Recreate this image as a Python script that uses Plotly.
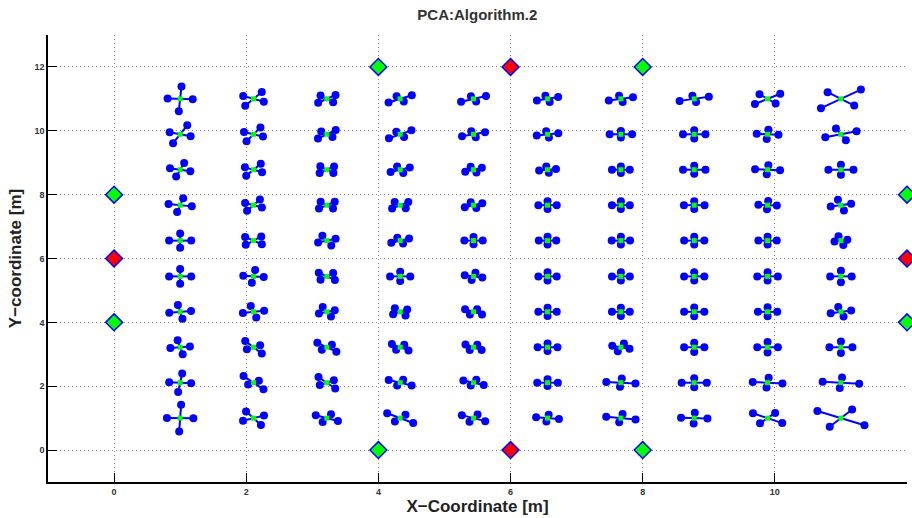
import numpy as np
import plotly.graph_objects as go

# grid of estimated positions
grid_x = [1.0, 2.11, 3.22, 4.33, 5.44, 6.56, 7.67, 8.78, 9.89, 11.0]
grid_y = [1.0, 2.11, 3.22, 4.33, 5.44, 6.56, 7.67, 8.78, 9.89, 11.0]

# principal axis 1 angle (deg, data space), per row (y) then column (x)
theta = [
    [88, -62, -28, -38, -28, -9, -11, -3, -35, -32],
    [84, -54, -55, -27, -25, 0, -6, 0, -6, -6],
    [-80, -57, -44, -38, -35, 0, -21, 0, 0, 0],
    [-81, -77, -67, -55, -33, 0, 0, 0, 0, 15],
    [90, 83, -43, 0, -14, 0, 0, 0, 0, 0],
    [90, 48, -66, 26, 0, 0, 0, 0, 0, -75],
    [78, 61, 42, 40, 25, 0, 0, 0, -4, 15],
    [74, 60, 43, 25, 26, 11, 0, 0, -5, 0],
    [69, 64, 45, 36, 20, 12, 0, 0, -5, 22],
    [87, 60, 43, 33, 26, 19, 16, 16, 40, 44],
]
# half-length along axis 1
axis1 = [
    [0.42, 0.24, 0.19, 0.25, 0.20, 0.175, 0.226, 0.20, 0.27, 0.42],
    [0.29, 0.256, 0.22, 0.195, 0.17, 0.156, 0.222, 0.19, 0.226, 0.278],
    [0.22, 0.23, 0.20, 0.16, 0.15, 0.15, 0.14, 0.153, 0.156, 0.174],
    [0.22, 0.185, 0.16, 0.14, 0.153, 0.139, 0.135, 0.153, 0.146, 0.16],
    [0.23, 0.20, 0.167, 0.153, 0.137, 0.139, 0.135, 0.153, 0.156, 0.163],
    [0.22, 0.175, 0.165, 0.15, 0.139, 0.132, 0.139, 0.153, 0.139, 0.14],
    [0.22, 0.20, 0.16, 0.16, 0.146, 0.139, 0.135, 0.156, 0.14, 0.16],
    [0.22, 0.22, 0.15, 0.16, 0.14, 0.13, 0.135, 0.17, 0.19, 0.19],
    [0.30, 0.24, 0.19, 0.21, 0.185, 0.167, 0.17, 0.17, 0.165, 0.255],
    [0.39, 0.25, 0.18, 0.21, 0.21, 0.17, 0.19, 0.23, 0.25, 0.42],
]
# half-length along axis 2 (perpendicular)
axis2 = [
    [0.20, 0.18, 0.135, 0.13, 0.13, 0.11, 0.135, 0.166, 0.20, 0.32],
    [0.167, 0.10, 0.13, 0.10, 0.10, 0.105, 0.13, 0.14, 0.155, 0.166],
    [0.15, 0.12, 0.11, 0.10, 0.10, 0.115, 0.13, 0.145, 0.166, 0.18],
    [0.167, 0.165, 0.13, 0.13, 0.10, 0.13, 0.13, 0.135, 0.14, 0.155],
    [0.167, 0.156, 0.14, 0.145, 0.12, 0.13, 0.13, 0.13, 0.13, 0.18],
    [0.167, 0.17, 0.145, 0.10, 0.115, 0.125, 0.12, 0.12, 0.12, 0.10],
    [0.18, 0.145, 0.14, 0.13, 0.10, 0.12, 0.12, 0.12, 0.13, 0.175],
    [0.16, 0.15, 0.145, 0.11, 0.10, 0.10, 0.104, 0.125, 0.14, 0.16],
    [0.17, 0.16, 0.12, 0.10, 0.10, 0.10, 0.104, 0.13, 0.145, 0.20],
    [0.19, 0.18, 0.14, 0.10, 0.09, 0.10, 0.10, 0.10, 0.19, 0.29],
]

# anchors
anchor_x = [4, 6, 8, 0, 0, 0, 12, 12, 12, 4, 6, 8]
anchor_y = [12, 12, 12, 8, 6, 4, 8, 6, 4, 0, 0, 0]
anchor_kind = ["g", "r", "g", "g", "r", "g", "g", "r", "g", "g", "r", "g"]

x_ticks = [0, 2, 4, 6, 8, 10, 12]
y_ticks = [0, 2, 4, 6, 8, 10, 12]

line_x, line_y, dot_x, dot_y, cx, cy = [], [], [], [], [], []
for i, yc in enumerate(grid_y):
    for j, xc in enumerate(grid_x):
        t = np.radians(theta[i][j])
        for ang, L in ((t, axis1[i][j]), (t + np.pi / 2, axis2[i][j])):
            dx, dy = L * np.cos(ang), L * np.sin(ang)
            line_x += [xc - dx, xc + dx, None]
            line_y += [yc - dy, yc + dy, None]
            dot_x += [xc - dx, xc + dx]
            dot_y += [yc - dy, yc + dy]
        cx.append(xc)
        cy.append(yc)

fig = go.Figure()
fig.add_trace(go.Scatter(x=line_x, y=line_y, mode="lines",
                         line=dict(color="#0000FF", width=2), hoverinfo="skip",
                         showlegend=False))
fig.add_trace(go.Scatter(x=dot_x, y=dot_y, mode="markers",
                         marker=dict(color="#0000FF", size=8, line=dict(width=0)),
                         showlegend=False))
fig.add_trace(go.Scatter(x=cx, y=cy, mode="markers",
                         marker=dict(color="#00FF00", size=5, symbol="square",
                                     line=dict(width=0)),
                         showlegend=False))
colors = ["#00FF00" if k == "g" else "#FF0000" for k in anchor_kind]
fig.add_trace(go.Scatter(x=anchor_x, y=anchor_y, mode="markers",
                         marker=dict(color=colors, size=13, symbol="diamond",
                                     line=dict(color="#0000FF", width=1.5)),
                         cliponaxis=False, showlegend=False))

axis_common = dict(
    showgrid=True, gridcolor="#8c8c8c", griddash="1px,3px", gridwidth=1,
    zeroline=False, showline=True, linecolor="black", linewidth=1.5,
    ticks="inside", ticklen=9, tickcolor="black", tickwidth=1.2,
    tickfont=dict(family="Liberation Sans, Arial", size=9, color="#333333",
                  weight="bold"),
    mirror=False,
)

fig.update_layout(
    width=912, height=518,
    margin=dict(l=48, r=5, t=35, b=36),
    paper_bgcolor="white", plot_bgcolor="white",
    title=dict(text="PCA:Algorithm.2", x=0.5234, xanchor="center", y=0.971,
               yanchor="middle",
               font=dict(family="Liberation Sans, Arial", size=15, color="#333333",
                         weight="bold")),
    xaxis=dict(range=[-1, 12], tickvals=x_ticks,
               title=dict(text="X\u2212Coordinate [m]", standoff=3,
                          font=dict(family="Liberation Sans, Arial", size=17,
                                    color="#222222", weight="bold")),
               **axis_common),
    yaxis=dict(range=[-1, 13], tickvals=y_ticks,
               title=dict(text="Y\u2212coordinate [m]", standoff=8,
                          font=dict(family="Liberation Sans, Arial", size=17,
                                    color="#222222", weight="bold")),
               **axis_common),
)

fig.write_html("out.html")
